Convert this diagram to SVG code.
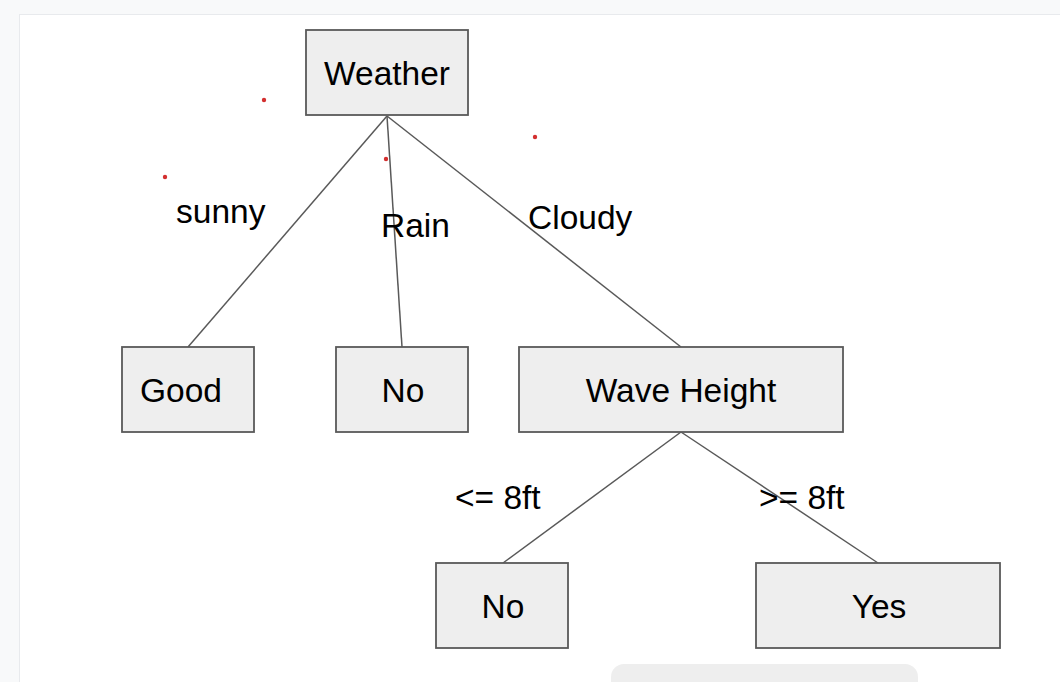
<svg xmlns="http://www.w3.org/2000/svg" width="1060" height="682" viewBox="0 0 1060 682">
  <defs>
    <style>
      .node rect { fill: #eeeeee; stroke: #595959; stroke-width: 1.8; }
      .node text, .label { font-family: "Liberation Sans", Arial, sans-serif; font-size: 33.5px; fill: #000000; }
      .node text { text-anchor: middle; }
      .edge { stroke: #595959; stroke-width: 1.5; fill: none; }
      .dot { fill: #d32f2f; }
    </style>
  </defs>
  <rect x="0" y="0" width="1060" height="682" fill="#f8f9fa"/>
  <rect x="19" y="14" width="1041" height="668" fill="#e8eaed"/>
  <rect x="20" y="15" width="1040" height="667" fill="#ffffff"/>
  <rect x="611" y="664" width="307" height="40" rx="13" fill="#eeeeee"/>

  <g id="connectors">
    <line class="edge" x1="387" y1="116" x2="188" y2="347"/>
    <line class="edge" x1="387" y1="116" x2="402" y2="347"/>
    <line class="edge" x1="387" y1="116" x2="681" y2="347"/>
    <line class="edge" x1="681" y1="432" x2="503" y2="563"/>
    <line class="edge" x1="681" y1="432" x2="878" y2="563"/>
  </g>

  <g id="labels">
    <text class="label" x="176" y="223">sunny</text>
    <text class="label" x="381" y="237">Rain</text>
    <text class="label" x="528" y="229">Cloudy</text>
    <text class="label" x="455" y="509">&lt;= 8ft</text>
    <text class="label" x="759" y="509">&gt;= 8ft</text>
  </g>

  <g id="dots">
    <circle class="dot" cx="264" cy="100" r="2.2"/>
    <circle class="dot" cx="165" cy="177" r="2.2"/>
    <circle class="dot" cx="386" cy="159" r="2.2"/>
    <circle class="dot" cx="535" cy="137" r="2.2"/>
  </g>

  <g id="node-weather" class="node">
    <rect x="306" y="30" width="162" height="85"/>
    <text x="387" y="85">Weather</text>
  </g>
  <g id="node-good" class="node">
    <rect x="122" y="347" width="132" height="85"/>
    <text x="181" y="402">Good</text>
  </g>
  <g id="node-no1" class="node">
    <rect x="336" y="347" width="132" height="85"/>
    <text x="403" y="402">No</text>
  </g>
  <g id="node-wave" class="node">
    <rect x="519" y="347" width="324" height="85"/>
    <text x="681" y="402">Wave Height</text>
  </g>
  <g id="node-no2" class="node">
    <rect x="436" y="563" width="132" height="85"/>
    <text x="503" y="618">No</text>
  </g>
  <g id="node-yes" class="node">
    <rect x="756" y="563" width="244" height="85"/>
    <text x="879" y="618">Yes</text>
  </g>
</svg>
